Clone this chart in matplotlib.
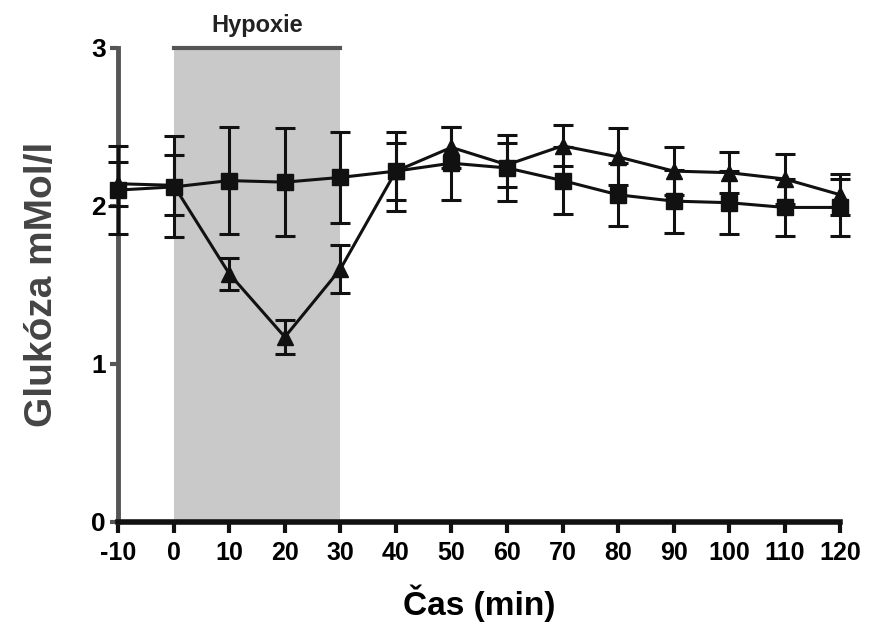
import matplotlib.pyplot as plt

# cas v minutach
cas = [-10, 0, 10, 20, 30, 40, 50, 60, 70, 80, 90, 100, 110, 120]

# kontrola (ctverce)
kontrola = [2.10, 2.12, 2.16, 2.15, 2.18, 2.22, 2.27, 2.24, 2.16, 2.07, 2.03, 2.02, 1.99, 1.99]
kontrola_sem = [0.28, 0.32, 0.34, 0.34, 0.29, 0.25, 0.23, 0.21, 0.21, 0.20, 0.20, 0.20, 0.18, 0.18]

# hypoxie (trojuhelniky)
hypoxie = [2.14, 2.13, 1.57, 1.17, 1.60, 2.22, 2.37, 2.26, 2.38, 2.31, 2.22, 2.21, 2.17, 2.07]
hypoxie_sem = [0.14, 0.19, 0.10, 0.11, 0.15, 0.18, 0.13, 0.14, 0.13, 0.18, 0.15, 0.13, 0.16, 0.13]

x_ticks = [-10, 0, 10, 20, 30, 40, 50, 60, 70, 80, 90, 100, 110, 120]
y_ticks = [0, 1, 2, 3]

plt.rcParams['font.family'] = ['Liberation Sans', 'DejaVu Sans']

fig = plt.figure(figsize=(8.69, 6.38), dpi=100)
ax = fig.add_axes([0.136, 0.182, 0.831, 0.743])

# obdobi hypoxie
ax.axvspan(0, 30, ymin=0, ymax=1, color='#c9c9c9', zorder=0, lw=0)
ax.plot([0, 30], [3, 3], color='#555555', lw=3, clip_on=False, zorder=1)
ax.text(15, 3.07, 'Hypoxie', ha='center', va='bottom', fontsize=17,
        fontweight='bold', color='#222222')

ax.errorbar(cas, hypoxie, yerr=hypoxie_sem, color='#111111', marker='^',
            markersize=11, lw=2.2, elinewidth=2.2, capsize=7, capthick=2.2,
            clip_on=False, zorder=3)
ax.errorbar(cas, kontrola, yerr=kontrola_sem, color='#111111', marker='s',
            markersize=11, lw=2.2, elinewidth=2.2, capsize=7, capthick=2.2,
            clip_on=False, zorder=4)

ax.set_xlim(-10, 120)
ax.set_ylim(0, 3)
ax.set_xticks(x_ticks)
ax.set_xticklabels([str(t) for t in x_ticks])
ax.set_yticks(y_ticks)

ax.spines['top'].set_visible(False)
ax.spines['right'].set_visible(False)
ax.spines['left'].set_color('#555555')
ax.spines['left'].set_linewidth(3.5)
ax.spines['bottom'].set_color('#111111')
ax.spines['bottom'].set_linewidth(4)

ax.tick_params(axis='x', direction='out', length=8, width=3, color='#111111',
               labelsize=18, pad=6)
ax.tick_params(axis='y', direction='out', length=6, width=3, color='#555555',
               labelsize=19, pad=3)
for lab in ax.get_xticklabels() + ax.get_yticklabels():
    lab.set_fontweight('bold')

ax.set_xlabel('Čas (min)', fontsize=24, fontweight='bold', labelpad=14)
ax.set_ylabel('Glukóza mMol/l', fontsize=28, fontweight='bold', color='#444444',
              labelpad=22)

fig.savefig('out.png', dpi=100)
